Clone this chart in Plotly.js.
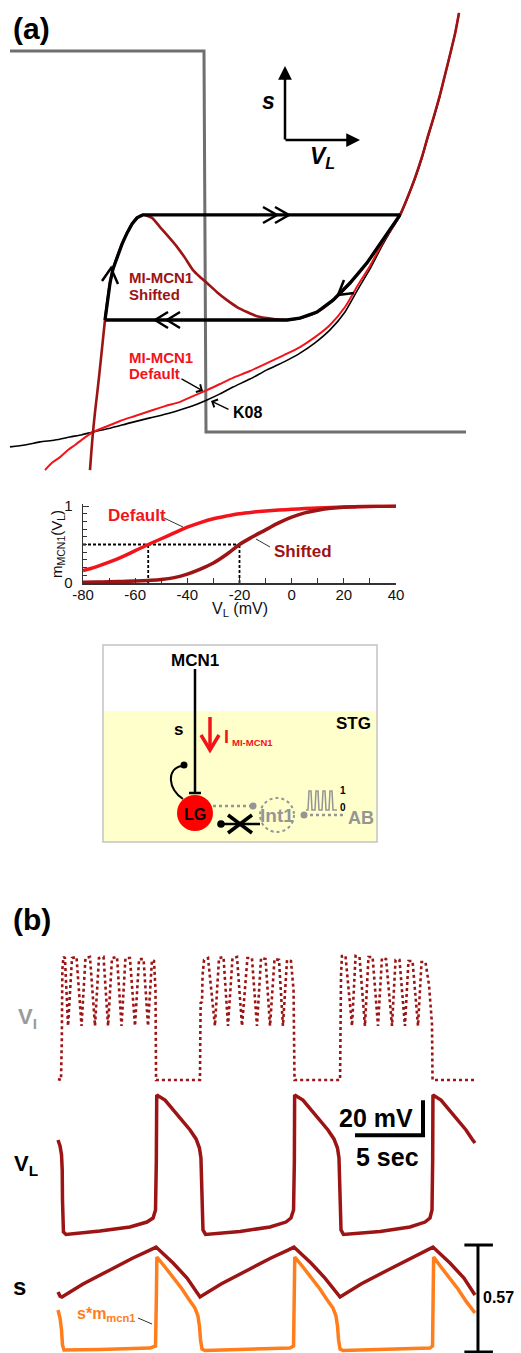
<!DOCTYPE html>
<html><head><meta charset="utf-8">
<script src="https://cdn.plot.ly/plotly-3.0.1.min.js"></script>
<style>html,body{margin:0;padding:0;background:#fff}#chart{width:521px;height:1353px}</style>
</head><body><div id="chart"></div>
<script>
// ================= DATA =================
// Panel (a): phase plane (V_L in mV, s)
const sNull_V = [-80, -28.95, -28.42, 40];
const sNull_s = [1, 1, 0, 0];
const k08_V = [-80,-76.05,-72.11,-68.16,-64.21,-61.05,-58.16,-53.68,-48.42,-43.16,-37.89,-32.63,-28.16,-24.74,-21.32,-16.84,-12.37,-7.89,-3.68,0.26,4.21,8.16,11.58,14.74,18.16,20.53,22.63,24.74,26.58,28.42,30.0,31.58,33.16];
const k08_s = [-0.039,-0.034,-0.026,-0.021,-0.013,-0.007,0,0.010,0.024,0.037,0.050,0.066,0.084,0.100,0.118,0.139,0.163,0.184,0.207,0.234,0.268,0.315,0.375,0.428,0.493,0.533,0.567,0.617,0.664,0.719,0.774,0.827,0.882];
const defNull_V = [-70.79,-68.95,-66.84,-64.74,-62.89,-60.53,-58.16,-55.0,-51.05,-47.11,-43.16,-39.21,-35.26,-31.84,-28.16,-24.74,-21.32,-16.84,-12.37,-7.89,-3.68,0.26,4.21,8.16,11.58,14.74,18.16,20.53,22.63,24.74,26.58,28.42,30.0,31.58,33.16,34.47,35.79,37.11,38.16];
const defNull_s = [-0.100,-0.081,-0.066,-0.047,-0.034,-0.016,0,0.013,0.029,0.042,0.055,0.068,0.079,0.094,0.110,0.126,0.142,0.160,0.181,0.202,0.223,0.249,0.281,0.328,0.386,0.436,0.499,0.535,0.570,0.619,0.667,0.722,0.777,0.829,0.885,0.937,0.990,1.045,1.100];
const shNull_V = [-58.95,-58.55,-58.16,-57.63,-57.11,-56.58,-56.05,-55.53,-55.0,-54.34,-53.68,-52.89,-51.84,-50.53,-49.21,-47.89,-46.58,-45.0,-42.63,-40.53,-38.42,-36.05,-33.95,-31.84,-30.0,-28.16,-25.53,-22.89,-20.26,-17.63,-15.0,-12.37,-9.74,-7.11,-3.68,0.79,5.0,9.47,13.95,18.16,22.63,24.74,26.58,28.42,30.0,31.58,33.16,34.47,35.79,37.11,38.16];
const shNull_s = [-0.100,-0.047,0,0.052,0.097,0.144,0.194,0.244,0.294,0.346,0.391,0.428,0.459,0.493,0.522,0.546,0.562,0.570,0.562,0.538,0.514,0.486,0.457,0.425,0.407,0.391,0.367,0.346,0.328,0.315,0.304,0.299,0.295,0.294,0.299,0.315,0.346,0.391,0.444,0.504,0.570,0.619,0.667,0.722,0.777,0.829,0.885,0.937,0.990,1.045,1.100];
const traj_V = [-55.0,-54.34,-53.68,-52.89,-51.84,-50.53,-49.21,-47.89,-46.58,-45.0,22.63,18.16,13.95,9.47,5.0,0.79,-3.68,-7.11,-55.0];
const traj_s = [0.294,0.346,0.391,0.428,0.459,0.493,0.522,0.546,0.562,0.570,0.570,0.504,0.444,0.391,0.346,0.315,0.299,0.294,0.294];

// m_MCN1(V_L) activation curves
const mV = [-80,-75,-70,-65,-60,-55,-50,-45,-40,-35,-30,-25,-20,-15,-10,-5,0,5,10,15,20,25,30,35,40];
const mDefault = [0.16,0.21,0.27,0.34,0.42,0.50,0.575,0.65,0.725,0.785,0.835,0.87,0.90,0.92,0.935,0.947,0.957,0.966,0.974,0.981,0.987,0.991,0.994,0.997,0.999];
const mShifted = [0.01,0.012,0.015,0.02,0.025,0.033,0.045,0.07,0.115,0.18,0.26,0.37,0.50,0.60,0.69,0.78,0.855,0.91,0.945,0.97,0.985,0.992,0.996,0.998,1.0];
const halfDefault = -55, halfShifted = -20, halfLevel = 0.5;
const mTickVals = [-80,-60,-40,-20,0,20,40];
const mTickText = ['-80','-60','-40','-20','0','20','40'];

// Panel (b): time (s) and traces
const tVI = [0,0.22,0.28,0.32,0.40,0.51,0.74, 1.03,1.36,1.73, 2.02,2.35,2.72, 3.01,3.35,3.68, 3.97,4.34,4.67, 4.96,5.29,5.66, 5.96,6.29,6.62, 6.91,7.06,7.17,7.21,
  10.44,10.46,10.49,10.59,10.63,10.74,11.03,11.54, 11.84,12.17,12.5, 12.83,13.16,13.53, 13.93,14.26,14.63, 14.93,15.26,15.59, 15.92,16.25,16.54, 16.84,17.13,17.32,17.39,
  20.74,20.77,20.81,20.88,21.14,21.62, 21.88,22.17,22.57, 22.83,23.13,23.53, 23.82,24.12,24.56, 24.82,25.11,25.51, 25.77,26.07,26.47, 26.73,27.02,27.28,27.43,27.5,27.54, 30.74];
const VI = [-59.4,-60,-37.1,2.9,10.3,9.7,-29.1, 9.7,10.3,-29.1, 9.7,10.3,-29.1, 9.7,10.3,-29.1, 9.7,10.3,-29.1, 9.7,9.7,-29.1, 9.1,9.1,-29.1, 8.6,8.0,-8.6,-60,
  -60,-37.1,-16.0,-15.4,0,8.6,9.7,-29.1, 9.7,10.3,-29.1, 9.7,10.3,-29.1, 9.7,9.7,-29.1, 9.7,9.1,-29.1, 9.1,8.6,-29.1, 8.6,8.0,-8.6,-60,
  -60,-37.1,0,10.9,10.9,-29.1, 10.9,10.3,-29.1, 10.3,10.3,-29.1, 9.7,9.1,-29.1, 8.6,8.6,-29.1, 8.0,8.0,-29.1, 7.4,7.4,-5.7,-25.7,-28.0,-60, -60];
const tVL = [0,0.15,0.26,0.31,0.33,0.35,0.40,0.59,3.09,5.29,6.54,6.99,7.17,7.23,7.26,
  7.87,8.46,9.12,9.71,10.15,10.40,10.51,10.56,10.59,10.66,10.85,
  13.38,15.59,16.76,17.13,17.32,17.38,17.40,
  18.01,18.60,19.26,19.85,20.29,20.55,20.66,20.71,20.74,20.81,20.99,
  23.68,25.88,26.99,27.35,27.50,27.55,27.57,
  28.16,28.75,29.41,30.0,30.44,30.66];
const VL = [-25.7,-29.1,-34.3,-42.9,-60,-74.3,-78.3,-79.7,-77.7,-75.4,-72.6,-70.3,-65.7,-37.1,0,
  -2.9,-8.6,-14.3,-20,-25.1,-30.3,-36,-48.6,-68.6,-77.1,-79.7,
  -78,-75.4,-72.6,-70.3,-65.7,-37.1,0,
  -2.9,-8.6,-14.3,-20,-25.1,-30.3,-36,-48.6,-68.6,-77.1,-79.7,
  -78,-75.4,-72.6,-70.3,-65.7,-37.1,0,
  -2.9,-8.6,-14.3,-20,-25.1,-27.4];
const tS = [0,0.15,0.29,1.84,3.82,5.51,6.76,7.21,8.46,9.49,10.44,11.99,13.97,15.66,16.91,17.35,18.60,19.63,20.74,22.28,24.26,25.96,27.21,27.57,28.82,29.85,30.66];
const S = [0.320,0.298,0.293,0.362,0.437,0.501,0.543,0.559,0.474,0.394,0.293,0.362,0.437,0.501,0.543,0.559,0.474,0.394,0.293,0.362,0.437,0.501,0.543,0.559,0.474,0.394,0.304];
const tSM = [0,0.15,0.26,0.33,0.44,3.09,6.76,7.17,7.23,7.27,7.87,8.46,9.12,9.71,10.07,10.29,10.40,10.48,10.59,10.81,14.12,17.06,17.32,17.38,17.41,18.01,18.60,19.26,19.85,20.22,20.44,20.55,20.63,20.74,20.96,24.41,27.35,27.54,27.59,27.62,28.16,28.75,29.41,30.0,30.66];
const SM = [0.224,0.181,0.117,0.037,0.011,0.013,0.021,0.032,0.277,0.506,0.453,0.400,0.336,0.271,0.234,0.192,0.139,0.064,0.016,0.008,0.013,0.021,0.032,0.277,0.506,0.453,0.400,0.336,0.271,0.234,0.192,0.139,0.064,0.016,0.008,0.013,0.021,0.032,0.277,0.506,0.453,0.400,0.336,0.271,0.208];
const barMV = 20, barSec = 5, sBar = 0.57;

// ================= STYLE / LAYOUT =================
const F = '"Liberation Sans", Arial, sans-serif';
const W = 521, H = 1353;
const X = v => v / W, Y = v => 1 - v / H;
const DR = '#9c1414', RD = '#f2141b', OR = '#ff7d1a', GR = '#6f6f6f', LG = '#959595';

const ln = (x, y, c, w, xa, ya, extra) => Object.assign({type:'scatter', mode:'lines', x, y, xaxis:xa, yaxis:ya,
  line:{color:c, width:w}, hoverinfo:'skip'}, extra || {});
const dsh = {line:{color:'#000', width:1.8, dash:'3px,2px'}};

const traces = [
  ln(sNull_V, sNull_s, GR, 3, 'x', 'y'),
  ln(k08_V, k08_s, '#000', 1.6, 'x', 'y', {line:{color:'#000', width:1.6, shape:'spline', smoothing:0.6}}),
  ln(defNull_V, defNull_s, RD, 2, 'x', 'y', {line:{color:RD, width:2, shape:'spline', smoothing:0.6}}),
  ln(shNull_V, shNull_s, DR, 2.6, 'x', 'y', {line:{color:DR, width:2.6, shape:'spline', smoothing:0.6}}),
  ln(traj_V, traj_s, '#000', 3.3, 'x', 'y'),
  ln([mV[0], halfShifted], [halfLevel, halfLevel], '#000', 1.8, 'x2', 'y2', dsh),
  ln([halfDefault, halfDefault], [0, halfLevel], '#000', 1.8, 'x2', 'y2', dsh),
  ln([halfShifted, halfShifted], [0, halfLevel], '#000', 1.8, 'x2', 'y2', dsh),
  ln(mV, mDefault, RD, 3.5, 'x2', 'y2', {line:{color:RD, width:3.5, shape:'spline'}}),
  ln(mV, mShifted, DR, 3.5, 'x2', 'y2', {line:{color:DR, width:3.5, shape:'spline'}}),
  ln(tVI, VI, DR, 2.6, 'x3', 'y3', {line:{color:DR, width:2.6, dash:'dot'}}),
  ln(tVL, VL, DR, 3.5, 'x3', 'y4'),
  ln(tSM, SM, OR, 3.5, 'x3', 'y5'),
  ln(tS, S, DR, 3.5, 'x3', 'y5')
];

const hid = {visible:false, showgrid:false, zeroline:false, fixedrange:true};

const T = (text, x, y, size, color, o) => Object.assign({text, x:X(x), y:Y(y), xref:'paper', yref:'paper',
  showarrow:false, xanchor:'center', yanchor:'middle', font:{family:F, size, color:color||'#000'}}, o || {});
const A = (hx, hy, tx, ty, head, w, sz, c) => ({text:'', x:X(hx), y:Y(hy), xref:'paper', yref:'paper',
  ax:tx-hx, ay:ty-hy, axref:'pixel', ayref:'pixel', showarrow:true, arrowhead:head, arrowwidth:w, arrowsize:sz,
  arrowcolor:c||'#000', standoff:0, startstandoff:0});

const annotations = [
  T('<b>(a)</b>', 31, 28, 30),
  T('<b><i>s</i></b>', 268, 101, 23),
  T('<b><i>V<sub>L</sub></i></b>', 322, 157, 23),
  T('<b>MI-MCN1</b>', 127, 277, 15, DR, {xanchor:'left'}),
  T('<b>Shifted</b>', 127, 294, 15, DR, {xanchor:'left'}),
  T('<b>MI-MCN1</b>', 127, 357, 15, RD, {xanchor:'left'}),
  T('<b>Default</b>', 127, 374, 15, RD, {xanchor:'left'}),
  T('<b>K08</b>', 231, 413, 16, '#000', {xanchor:'left'}),
  A(203, 391, 180, 378, 4, 1.3, 1.3),
  A(211, 401, 230, 410, 4, 1.3, 1.3),
  A(285, 66, 285, 141, 2, 2.5, 1.1),
  A(360, 140, 284, 140, 2, 2.5, 1.1),
  // small plot labels and axis titles
  T('<b>Default</b>', 106, 515, 17, RD, {xanchor:'left'}),
  T('<b>Shifted</b>', 272, 551, 17, DR, {xanchor:'left'}),
  T('V<sub>L</sub> (mV)', 240, 609, 16, '#111'),
  T('m<sub>MCN1</sub>(V<sub>L</sub>)', 57, 544, 15, '#111', {textangle:-90}),
  // circuit
  T('<b>MCN1</b>', 195, 660, 17),
  T('<b>s</b>', 178, 729, 17),
  T('<b>STG</b>', 353, 723, 17),
  T('<b>I</b>', 226, 737, 18, RD),
  T('<b>MI-MCN1</b>', 230, 742, 9.5, RD, {xanchor:'left'}),
  T('<b>LG</b>', 195, 814, 16),
  T('<b>Int1</b>', 277, 815, 19, LG),
  T('<b>AB</b>', 361, 818, 18, LG),
  T('<b>1</b>', 343, 790, 10),
  T('<b>0</b>', 343, 807, 10),
  // panel b
  T('<b>(b)</b>', 32, 919, 30),
  T('<b>V<sub>I</sub></b>', 27, 1018, 22, '#9a9a9a'),
  T('<b>V<sub>L</sub></b>', 26, 1165, 22),
  T('<b>s</b>', 19, 1286, 24),
  T('<b>20 mV</b>', 376, 1118, 25),
  T('<b>5 sec</b>', 387, 1157, 25),
  T('<b>s*m<sub>mcn1</sub></b>', 75, 1314, 16, OR, {xanchor:'left'}),
  T('<b>0.57</b>', 481, 1297, 16, '#000', {xanchor:'left'})
];

const L = (x0, y0, x1, y1, c, w, dash) => ({type:'line', xref:'paper', yref:'paper', x0:X(x0), y0:Y(y0), x1:X(x1), y1:Y(y1),
  line:{color:c, width:w, dash:dash||'solid'}});
const P = (pts, c, w) => ({type:'path', xref:'paper', yref:'paper',
  path:'M ' + pts.map(p => X(p[0]) + ',' + Y(p[1])).join(' L '),
  line:{color:c, width:w}});
const C = (cx, cy, r, fill, lc, lw, dash) => ({type:'circle', xref:'paper', yref:'paper',
  x0:X(cx-r), x1:X(cx+r), y0:Y(cy+r), y1:Y(cy-r), fillcolor:fill||'rgba(0,0,0,0)',
  line:{color:lc||'rgba(0,0,0,0)', width:lw||0, dash:dash||'solid'}});

const tBar = 26.84, vTop = -3, tSbar = 30.88;
const shapes = [
  P([[263,207],[277,215],[263,223]], '#000', 2.5),
  P([[275,207],[289,215],[275,223]], '#000', 2.5),
  P([[168,312],[155,320],[168,328]], '#000', 2.5),
  P([[180,312],[167,320],[180,328]], '#000', 2.5),
  P([[102,281],[111,268],[118,284]], '#000', 2.5),
  P([[344,280],[338,295],[354,293]], '#000', 2.5),
  L(164, 518, 183, 527, '#333', 1),
  L(270, 547, 256, 539, '#333', 1),
  {type:'rect', xref:'paper', yref:'paper', x0:X(103), x1:X(377), y0:Y(842), y1:Y(711), fillcolor:'#ffffcc', line:{width:0}},
  {type:'rect', xref:'paper', yref:'paper', x0:X(103), x1:X(377), y0:Y(842), y1:Y(645), fillcolor:'rgba(0,0,0,0)', line:{color:'#c4c4c4', width:1.5}},
  L(195, 669, 195, 793, '#000', 2.5),
  L(189, 793, 201, 793, '#000', 2.5),
  L(210, 717, 210, 748, RD, 3.5),
  P([[201,735],[210,750],[219,735]], RD, 3.5),
  {type:'path', xref:'paper', yref:'paper', path:'M '+X(183)+','+Y(799)+' C '+X(168)+','+Y(790)+' '+X(166)+','+Y(768)+' '+X(182)+','+Y(766), line:{color:'#000', width:2}},
  C(184, 765, 3.5, '#000'),
  C(195, 813, 18, '#ff0000'),
  L(213, 806, 251, 806, LG, 2.5, 'dot'),
  C(253, 806, 3.5, LG),
  L(222, 824, 260, 824, '#000', 2.5),
  C(221, 824, 3.8, '#000'),
  L(228, 815, 252, 833, '#000', 3.5),
  L(228, 833, 252, 815, '#000', 3.5),
  C(277, 815, 17, null, LG, 2, 'dot'),
  C(304, 815, 3.5, LG),
  L(304, 815, 346, 815, LG, 2.5, 'dot'),
  P([[306,810],[308,810],[309,791],[311,791],[312,810],[315,810],[316,791],[318,791],[319,810],[322,810],[323,791],[325,791],[326,810],[329,810],[330,791],[332,791],[333,810],[337,810]], LG, 1.5),
  {type:'line', xref:'x3', yref:'y4', x0:tBar, x1:tBar, y0:vTop, y1:vTop - barMV - 1, line:{color:'#000', width:4}},
  {type:'line', xref:'x3', yref:'y4', x0:tBar - barSec, x1:tBar + 0.15, y0:vTop - barMV, y1:vTop - barMV, line:{color:'#000', width:4}},
  {type:'line', xref:'x3', yref:'y5', x0:tSbar, x1:tSbar, y0:0, y1:sBar, line:{color:'#000', width:3}},
  {type:'line', xref:'x3', yref:'y5', x0:tSbar - 1.0, x1:tSbar + 1.1, y0:0, y1:0, line:{color:'#000', width:3}},
  {type:'line', xref:'x3', yref:'y5', x0:tSbar - 1.0, x1:tSbar + 1.1, y0:sBar, y1:sBar, line:{color:'#000', width:3}},
  L(138, 1318, 152, 1324, '#333', 1)
];

const layout = {
  width: W, height: H, margin:{l:0, r:0, t:0, b:0}, paper_bgcolor:'#fff', plot_bgcolor:'rgba(0,0,0,0)',
  showlegend:false, font:{family:F},
  xaxis: Object.assign({domain:[X(5), X(475)], range:[-81.316, 42.368], anchor:'y'}, hid),
  yaxis: Object.assign({domain:[Y(475), Y(5)], range:[-0.11286, 1.12073], anchor:'x'}, hid),
  xaxis2: {domain:[X(83), X(396)], range:[-80, 40], anchor:'y2', showline:true, linecolor:'#333', linewidth:1.5,
    ticks:'inside', ticklen:5, tickcolor:'#333', tickmode:'array', tickvals:mTickVals, ticktext:mTickText,
    showgrid:false, zeroline:false, fixedrange:true, ticklabelstandoff:-3,
    minor:{tickmode:'linear', dtick:10, tick0:-80, ticks:'inside', ticklen:5, tickcolor:'#333'},
    tickfont:{family:F, size:15, color:'#111'}},
  yaxis2: {domain:[Y(583), Y(504.46)], range:[0, 1.02], anchor:'x2', showline:true, linecolor:'#333', linewidth:1.5,
    ticks:'inside', ticklen:6, tickcolor:'#333', tick0:0, dtick:1, showgrid:false, zeroline:false, fixedrange:true,
    minor:{dtick:0.1, tick0:0, ticks:'inside', ticklen:4, tickcolor:'#333'},
    ticklabelstandoff:6,
    tickfont:{family:F, size:15, color:'#111'}},
  xaxis3: Object.assign({domain:[X(40), X(500)], range:[-1.3235, 32.5], anchor:'y3'}, hid),
  yaxis3: Object.assign({domain:[Y(1090), Y(945)], range:[-65.714, 17.143], anchor:'x3'}, hid),
  yaxis4: Object.assign({domain:[Y(1242), Y(1090)], range:[-84.0, 2.857], anchor:'x3'}, hid),
  yaxis5: Object.assign({domain:[0, Y(1240)], range:[-0.00533, 0.5967], anchor:'x3'}, hid),
  annotations, shapes
};

Plotly.newPlot('chart', traces, layout, {staticPlot:true, displayModeBar:false});
</script></body></html>
